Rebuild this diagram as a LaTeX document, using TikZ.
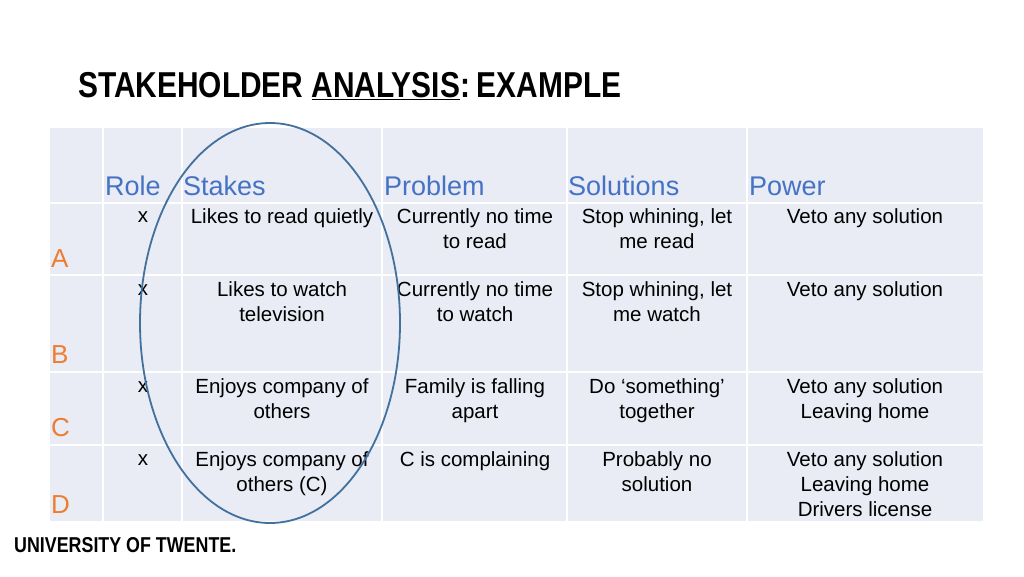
\documentclass[tikz,border=0pt]{standalone}
\usepackage{fontspec}
\setmainfont{Liberation Sans}
\newfontfamily\titlefont[FakeStretch=0.83]{Liberation Sans Bold}
\begin{document}
\begin{tikzpicture}[x=1pt,y=-1pt,
  cell/.style={font=\fontsize{20.5}{25}\selectfont,align=center,anchor=north},
  head/.style={font=\fontsize{27}{30}\selectfont,text=hdblue,anchor=south west,inner sep=0},
  lett/.style={font=\fontsize{26}{30}\selectfont,text=letor,anchor=west,inner sep=0}]
\definecolor{tbg}{HTML}{E9EBF5}
\definecolor{hdblue}{HTML}{4472C4}
\definecolor{letor}{HTML}{ED7D31}
\definecolor{ellc}{HTML}{41719C}
\useasboundingbox (0,0) rectangle (1024,576);
\fill[white] (0,0) rectangle (1024,576);
\fill[tbg] (50,128) rectangle (983,521);
\foreach \x in {103,182,382,567,747} \draw[white,line width=1.5pt] (\x,128) -- (\x,521);
\foreach \y in {203,275,372,445} \draw[white,line width=1.5pt] (50,\y) -- (983,\y);
\node[anchor=west,inner sep=0,font=\titlefont\fontsize{36}{40}\selectfont] (title) at (78,86) {STAKEHOLDER \underline{ANALYSIS}:\hspace{7pt}EXAMPLE};
\node[head] (h1) at (105,196) {Role};
\node[head] (h2) at (183,196) {Stakes};
\node[head] (h3) at (384,196) {Problem};
\node[head] (h4) at (568,196) {Solutions};
\node[head] (h5) at (749,196) {Power};
\foreach \r/\y in {1/205,2/278,3/375,4/448} \node[cell] (x\r) at (143,\y) {x\vphantom{L}};
\node[cell] (s1) at (282,205) {Likes to read quietly};
\node[cell] (p1) at (475,205) {Currently no time\\to read};
\node[cell] (o1) at (657,205) {Stop whining, let\\me read};
\node[cell] (w1) at (865,205) {Veto any solution};
\node[cell] (s2) at (282,278) {Likes to watch\\television};
\node[cell] (p2) at (475,278) {Currently no time\\to watch};
\node[cell] (o2) at (657,278) {Stop whining, let\\me watch};
\node[cell] (w2) at (865,278) {Veto any solution};
\node[cell] (s3) at (282,375) {Enjoys company of\\others};
\node[cell] (p3) at (475,375) {Family is falling\\apart};
\node[cell] (o3) at (657,375) {Do ‘something’\\together};
\node[cell] (w3) at (865,375) {Veto any solution\\Leaving home};
\node[cell] (s4) at (282,448) {Enjoys company of\\others (C)};
\node[cell] (p4) at (475,448) {C is complaining};
\node[cell] (o4) at (657,448) {Probably no\\solution};
\node[cell] (w4) at (865,448) {Veto any solution\\Leaving home\\Drivers license};
\node[lett] (la) at (51,259) {A};
\node[lett] (lb) at (51,355) {B};
\node[lett] (lc) at (51,428) {C};
\node[lett] (ld) at (51,505) {D};
\draw[ellc,line width=1.8pt] (270,323) ellipse [x radius=130, y radius=200];
\node[anchor=west,inner sep=0,font=\titlefont\fontsize{21.5}{24}\selectfont] (uni) at (14,545) {UNIVERSITY OF TWENTE.};
\end{tikzpicture}
\end{document}
